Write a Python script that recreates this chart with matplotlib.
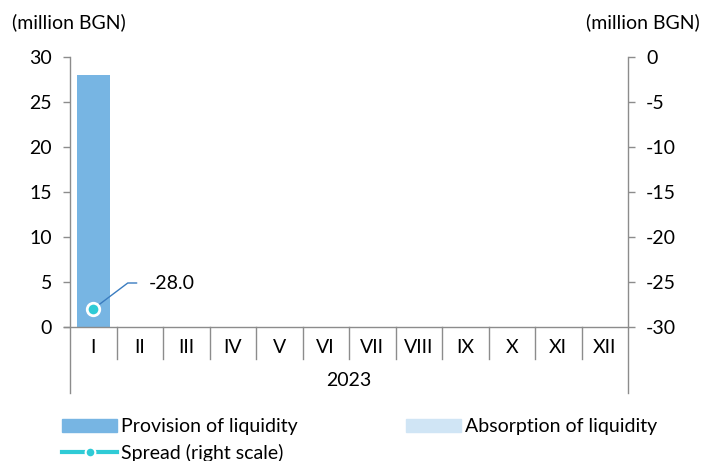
import matplotlib.pyplot as plt
from matplotlib.patches import Patch
from matplotlib.lines import Line2D

plt.rcParams['font.family'] = ['Lato', 'DejaVu Sans']
plt.rcParams['axes.unicode_minus'] = False

months = ["I", "II", "III", "IV", "V", "VI", "VII", "VIII", "IX", "X", "XI", "XII"]
year = "2023"
provision = [28.0, 0, 0, 0, 0, 0, 0, 0, 0, 0, 0, 0]
absorption = [0, 0, 0, 0, 0, 0, 0, 0, 0, 0, 0, 0]
spread = [-28.0]  # only January has a value

grey = "#8c8c8c"
c_prov = "#77b5e3"
c_abs = "#d0e5f5"
c_spread = "#2fcbd6"
fs = 14

fig = plt.figure(figsize=(7.04, 4.61), dpi=100)
ax = fig.add_axes([70/704, 1 - 327/461, 558/704, 270/461])
ax2 = ax.twinx()

x = [i + 0.5 for i in range(len(months))]
ax.bar(x, provision, width=0.72, color=c_prov, zorder=2)
ax.bar(x, absorption, width=0.72, color=c_abs, zorder=2)

ax.set_xlim(0, 12)
ax.set_ylim(0, 30)
ax2.set_ylim(-30, 0)
ax.set_yticks(range(0, 31, 5))
ax2.set_yticks(range(-30, 1, 5))

for a in (ax, ax2):
    for s in a.spines.values():
        s.set_visible(False)
    a.tick_params(axis='y', length=5, width=1, color=grey, labelsize=fs, pad=8)
ax.set_xticks([])

# axis lines drawn by hand so they can run below the plot area
ax.plot([0, 0], [-0.245, 1], transform=ax.transAxes, color=grey, lw=1, clip_on=False)
ax.plot([1, 1], [-0.245, 1], transform=ax.transAxes, color=grey, lw=1, clip_on=False)
ax.plot([-0.01, 1], [0, 0], transform=ax.transAxes, color=grey, lw=1, clip_on=False)
for i in range(1, 12):
    ax.plot([i, i], [0, -3.6], color=grey, lw=1, clip_on=False)
for xi, m in zip(x, months):
    ax.text(xi, -2.3, m, ha='center', va='center', fontsize=fs)
ax.text(6, -5.9, year, ha='center', va='center', fontsize=fs)

# spread
ax2.plot(x[:len(spread)], spread, color=c_spread, lw=3, marker='o', ms=9,
         mfc=c_spread, mec='white', mew=2, zorder=5, clip_on=False)
ax2.annotate(f"{spread[0]:.1f}", xy=(x[0], spread[0]), xytext=(56, 26),
             textcoords='offset pixels', fontsize=fs, va='center', ha='left',
             arrowprops=dict(arrowstyle='-', color='#3a7cc0', lw=1, shrinkA=7, shrinkB=5,
                             connectionstyle='angle,angleA=0,angleB=37,rad=0'))

fig.text(12/704, 1 - 22/461, "(million BGN)", fontsize=fs, va='center', ha='left')
fig.text(700/704, 1 - 22/461, "(million BGN)", fontsize=fs, va='center', ha='right')

handles = [Patch(color=c_prov), Line2D([], [], color=c_spread, lw=3, marker='o', ms=7,
                                        mfc=c_spread, mec='white', mew=1.5),
           Patch(color=c_abs)]
labels = ["Provision of liquidity", "Spread (right scale)", "Absorption of liquidity"]
fig.legend(handles, labels, ncol=2, loc='upper left', bbox_to_anchor=(62/704, 1 - 418/461),
           frameon=False, fontsize=fs, handlelength=2.85, handleheight=0.65,
           handletextpad=0.2, columnspacing=5.55, labelspacing=0.45, borderaxespad=0,
           borderpad=0)

fig.savefig("out.png", dpi=100)
